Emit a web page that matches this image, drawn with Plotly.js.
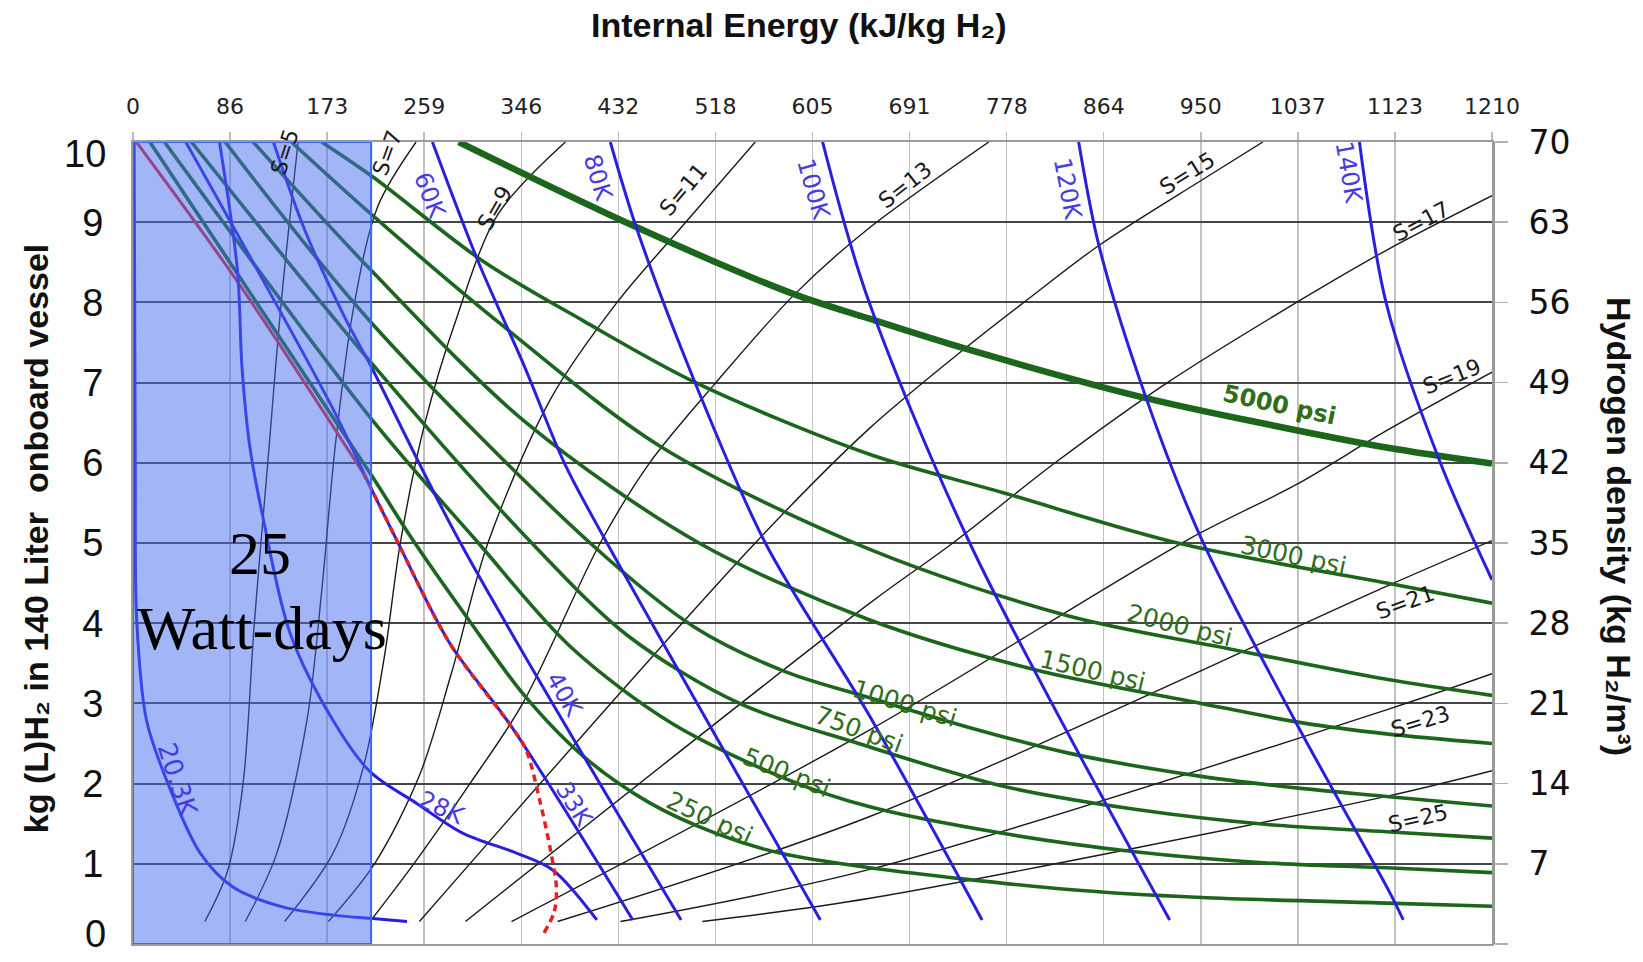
<!DOCTYPE html>
<html>
<head>
<meta charset="utf-8">
<script src="https://cdn.plot.ly/plotly-3.0.1.min.js"></script>
<style>
  html, body { margin: 0; padding: 0; background: #ffffff; }
  #chart { width: 1643px; height: 962px; }
</style>
</head>
<body>
<div id="chart"></div>
<script>
// ---- Axis ticks ----
const energyTickVals = [0, 86.43, 172.86, 259.29, 345.71, 432.14, 518.57, 605, 691.43, 777.86, 864.29, 950.71, 1037.14, 1123.57, 1210];
const energyTickText = ['0', '86', '173', '259', '346', '432', '518', '605', '691', '778', '864', '950', '1037', '1123', '1210'];
const massTicks = [0, 1, 2, 3, 4, 5, 6, 7, 8, 9, 10];
const massTickText = ['', '1', '2', '3', '4', '5', '6', '7', '8', '9', ''];
const densityTicks = [0, 7, 14, 21, 28, 35, 42, 49, 56, 63, 70];

// ---- Isobars: [internal energy kJ/kg, kg H2 in 140 L] ----
const isobar250 = [[15, 10], [212, 5.85], [249, 5.04], [299, 4.04], [349, 3.09], [401, 2.34], [460, 1.76], [519, 1.38], [577, 1.13], [656, 0.95], [833, 0.68], [951, 0.58], [1116, 0.51], [1210, 0.47]];
const isobar500 = [[28, 10], [212, 6.55], [305, 5.04], [390, 3.7], [480, 2.75], [583, 2.05], [656, 1.71], [774, 1.38], [892, 1.15], [1010, 1.01], [1116, 0.95], [1210, 0.89]];
const isobar750 = [[52, 10], [212, 7.25], [355, 5.0], [440, 3.85], [540, 3.0], [646, 2.5], [774, 1.97], [892, 1.68], [1010, 1.49], [1116, 1.40], [1210, 1.32]];
const isobar1000 = [[82, 10], [212, 7.75], [407, 5.0], [500, 3.95], [580, 3.4], [656, 3.07], [742, 2.71], [833, 2.38], [951, 2.09], [1040, 1.94], [1116, 1.84], [1210, 1.72]];
const isobar1500 = [[107, 10], [212, 8.4], [350, 6.5], [504, 5.0], [656, 4.04], [803, 3.42], [951, 3.0], [1040, 2.76], [1116, 2.62], [1210, 2.5]];
const isobar2000 = [[141, 10], [212, 9.1], [330, 7.7], [470, 6.2], [656, 4.92], [833, 4.09], [980, 3.67], [1116, 3.30], [1210, 3.1]];
const isobar3000 = [[168, 10], [214, 9.56], [311, 8.52], [401, 7.77], [501, 7.0], [655, 6.11], [774, 5.63], [930, 5.0], [1116, 4.5], [1210, 4.25]];
const isobar5000 = [[290, 10], [448, 8.94], [589, 8.1], [655, 7.8], [742, 7.42], [901, 6.81], [1010, 6.48], [1116, 6.19], [1210, 5.99]];

// ---- Isotherms ----
const isotherm20 = [[1, 10], [2, 6], [3.3, 4.04], [12, 2.79], [30, 2.04], [60, 1.13], [89, 0.71], [134, 0.46], [178, 0.36], [211, 0.32], [244, 0.28]];
const isotherm28 = [[77, 10], [93, 8.4], [97, 7.2], [104, 6.2], [116, 5.3], [140, 3.87], [178, 2.79], [211, 2.15], [253, 1.75], [294, 1.38], [342, 1.13], [374, 0.92], [413, 0.3]];
const isotherm33 = [[47, 10], [177, 6.7], [212, 5.68], [235, 5.03], [282, 3.75], [337, 2.71], [445, 0.3]];
const isotherm40 = [[125, 10], [153, 8.9], [189, 7.8], [212, 7.2], [290, 5.04], [488, 0.3]];
const isotherm60 = [[266.6, 10], [307.6, 8.5], [348.6, 7.2], [384, 6.0], [422, 5.0], [612, 0.3]];
const isotherm80 = [[425, 10], [448, 8.94], [501, 6.98], [563, 5.0], [656, 2.84], [756, 0.3]];
const isotherm100 = [[614, 10], [653, 8.1], [745, 5.0], [923, 0.3]];
const isotherm120 = [[842, 10], [860, 8.71], [901, 6.85], [951, 5.06], [1034, 2.8], [1119, 0.64], [1131, 0.3]];
const isotherm140 = [[1092, 10], [1116, 7.98], [1164, 6.0], [1210, 4.54]];

// ---- Saturated liquid line ----
const satLiquidSolid = [[3, 10], [91, 8.3], [205, 5.87]];
const satLiquidDashed = [[205, 5.87], [212, 5.68], [235, 5.03], [282, 3.75], [337, 2.71], [350, 2.42], [362, 1.8], [372, 1.15], [377, 0.7], [375, 0.4], [366, 0.14]];

// ---- Isentropes ----
const entropy5 = [[64, 0.28], [84, 0.9], [98, 2.0], [108, 4.0], [120, 6.0], [132, 8.0], [147, 10]];
const entropy7 = [[100, 0.28], [128, 1.13], [155, 2.8], [168, 4.4], [180, 6.2], [196, 7.9], [218, 9.2], [252, 10]];
const entropy9 = [[135, 0.28], [178, 1.13], [205, 2.2], [224, 3.6], [238, 5.0], [260, 6.5], [288, 7.8], [325, 9.1], [385, 10]];
const entropy11 = [[174, 0.28], [215, 1.0], [255, 2.1], [284, 3.4], [316, 5.0], [372, 6.8], [431, 8.0], [489, 8.95], [554, 10]];
const entropy13 = [[211, 0.28], [250, 1.0], [300, 2.0], [347, 3.0], [416, 5.0], [460, 6.0], [519, 7.0], [589, 8.1], [653, 8.9], [762, 10]];
const entropy15 = [[255, 0.28], [554, 5.0], [655, 6.42], [742, 7.44], [795, 8.02], [860, 8.71], [951, 9.52], [1006, 10]];
const entropy17 = [[296, 0.28], [656, 4.25], [730, 5.0], [821, 6.0], [921, 7.0], [1036, 8.0], [1116, 8.65], [1210, 9.33]];
const entropy19 = [[337, 0.28], [656, 2.67], [939, 5.04], [1036, 5.73], [1116, 6.4], [1210, 7.13]];
const entropy21 = [[378, 0.28], [656, 1.59], [1116, 4.46], [1210, 5.03]];
const entropy23 = [[434, 0.28], [656, 0.93], [1116, 2.92], [1210, 3.37]];
const entropy25 = [[507, 0.28], [656, 0.57], [1116, 1.84], [1210, 2.16]];

// ---- Heat-leak window ----
const windowEnergy = [0, 212];

// ---- Colours ----
const GREEN = '#1c661c';
const BLUE = '#2a20dc';
const BLACK = '#1a1a1a';
const RED = '#e52222';
const LABEL_GREEN = '#2f6f1c';
const LABEL_BLUE = '#4a3be0';

function curve(pts, color, width, dash) {
  return {
    x: pts.map(p => p[0]),
    y: pts.map(p => p[1]),
    mode: 'lines',
    type: 'scatter',
    line: { color: color, width: width, shape: 'spline', smoothing: 0.9, dash: dash || 'solid' },
    hoverinfo: 'skip',
    showlegend: false
  };
}

const traces = [];
[entropy5, entropy7, entropy9, entropy11, entropy13, entropy15, entropy17, entropy19, entropy21, entropy23, entropy25]
  .forEach(s => traces.push(curve(s, BLACK, 1.4)));
[isobar250, isobar500, isobar750, isobar1000, isobar1500, isobar2000, isobar3000]
  .forEach(p => traces.push(curve(p, GREEN, 3.6)));
traces.push(curve(isobar5000, GREEN, 6.5));
traces.push(curve(satLiquidSolid, RED, 3));
[isotherm20, isotherm28, isotherm33, isotherm40, isotherm60, isotherm80, isotherm100, isotherm120, isotherm140]
  .forEach(t => traces.push(curve(t, BLUE, 3)));
traces.push(curve(satLiquidDashed, RED, 3.5, '7px,5px'));
// keeps the density axis on the right drawn
traces.push({ x: [0], y: [0], yaxis: 'y2', mode: 'markers', marker: { opacity: 0 }, hoverinfo: 'skip', showlegend: false });

function label(text, x, y, angle, color, size, weight) {
  return {
    text: text, x: x, y: y, xref: 'x', yref: 'y', showarrow: false,
    textangle: angle, xanchor: 'center', yanchor: 'middle',
    font: { family: 'DejaVu Sans', size: size, color: color, weight: weight || 'normal' }
  };
}

const annotations = [
  // pressure labels
  label('5000 psi', 1021, 6.72, 12, LABEL_GREEN, 24, 'bold'),
  label('3000 psi', 1033, 4.85, 12, LABEL_GREEN, 25),
  label('2000 psi', 932, 3.97, 14, LABEL_GREEN, 25),
  label('1500 psi', 854, 3.41, 13, LABEL_GREEN, 25),
  label('1000 psi', 687, 3.0, 17, LABEL_GREEN, 25),
  label('750 psi', 646, 2.67, 20, LABEL_GREEN, 25),
  label('500 psi', 582, 2.14, 22, LABEL_GREEN, 25),
  label('250 psi', 514, 1.57, 25, LABEL_GREEN, 25),
  // temperature labels
  label('60K', 264.5, 9.33, 69, LABEL_BLUE, 24),
  label('80K', 414, 9.55, 73, LABEL_BLUE, 24),
  label('100K', 605.5, 9.41, 74, LABEL_BLUE, 24),
  label('120K', 832.5, 9.42, 79, LABEL_BLUE, 24),
  label('140K', 1082, 9.62, 80, LABEL_BLUE, 24),
  label('40K', 384, 3.1, 60, LABEL_BLUE, 24),
  label('33K', 393, 1.73, 58, LABEL_BLUE, 24),
  label('28K', 275, 1.69, 25, LABEL_BLUE, 24),
  label('20.3K', 40, 2.05, 72, LABEL_BLUE, 26),
  // entropy labels
  label('S=5', 135, 9.87, -72, BLACK, 22),
  label('S=7', 226, 9.86, -70, BLACK, 22),
  label('S=9', 322, 9.17, -60, BLACK, 22),
  label('S=11', 490, 9.41, -50, BLACK, 22),
  label('S=13', 687, 9.46, -38, BLACK, 22),
  label('S=15', 938.5, 9.61, -32, BLACK, 22),
  label('S=17', 1147, 9.01, -28, BLACK, 22),
  label('S=19', 1174.6, 7.07, -22, BLACK, 22),
  label('S=21', 1132.6, 4.26, -20, BLACK, 22),
  label('S=23', 1146, 2.78, -17, BLACK, 22),
  label('S=25', 1144, 1.56, -13, BLACK, 22),
  // window caption
  { text: '25', x: 113, y: 4.87, xref: 'x', yref: 'y', showarrow: false,
    font: { family: 'Liberation Serif', size: 62, color: '#000' } },
  { text: 'Watt-days', x: 115, y: 3.94, xref: 'x', yref: 'y', showarrow: false,
    font: { family: 'Liberation Serif', size: 62, color: '#000' } },
  // end labels of the mass axis, nudged inside the frame
  { text: '10', x: -0.0184, y: 9.85, xref: 'paper', yref: 'y', showarrow: false, xanchor: 'right', yanchor: 'middle',
    font: { family: 'Liberation Sans', size: 38, color: '#111' } },
  { text: '0', x: -0.0184, y: 0.12, xref: 'paper', yref: 'y', showarrow: false, xanchor: 'right', yanchor: 'middle',
    font: { family: 'Liberation Sans', size: 38, color: '#111' } },
  // axis titles
  { text: '<b>Internal Energy (kJ/kg H\u2082)</b>', x: 0.49, y: 1.1465, xref: 'paper', yref: 'paper',
    showarrow: false, xanchor: 'center', yanchor: 'middle',
    font: { family: 'Liberation Sans', size: 34, color: '#111' } },
  { text: '<b>kg (L)H\u2082 in 140 Liter\u00A0 onboard vessel</b>', x: -0.0714, y: 0.506, xref: 'paper', yref: 'paper',
    showarrow: false, textangle: -90, xanchor: 'center', yanchor: 'middle',
    font: { family: 'Liberation Sans', size: 34, color: '#111' } },
  { text: '<b>Hydrogen density (kg H\u2082/m\u00B3)</b>', x: 1.0935, y: 0.521, xref: 'paper', yref: 'paper',
    showarrow: false, textangle: 90, xanchor: 'center', yanchor: 'middle',
    font: { family: 'Liberation Sans', size: 34, color: '#111' } }
];

const layout = {
  width: 1643,
  height: 962,
  margin: { l: 133, r: 151, t: 142, b: 18 },
  paper_bgcolor: '#ffffff',
  plot_bgcolor: '#ffffff',
  showlegend: false,
  xaxis: {
    range: [0, 1210], side: 'top', tickmode: 'array',
    tickvals: energyTickVals, ticktext: energyTickText,
    showgrid: true, gridcolor: '#c2c2c2', gridwidth: 1.5, zeroline: false,
    showline: true, linecolor: '#9a9a9a', linewidth: 2, mirror: true,
    ticks: 'outside', ticklen: 8, tickcolor: '#bdbdbd', tickwidth: 1.5,
    ticklabelstandoff: 9,
    tickfont: { family: 'DejaVu Sans', size: 22, color: '#222' },
    fixedrange: true
  },
  yaxis: {
    range: [0, 10], tickmode: 'array', tickvals: massTicks, ticktext: massTickText,
    showgrid: true, gridcolor: '#454545', gridwidth: 2, zeroline: false,
    showline: true, linecolor: '#9a9a9a', linewidth: 2, mirror: true,
    ticks: '', ticklabelstandoff: 20,
    tickfont: { family: 'Liberation Sans', size: 38, color: '#111' },
    fixedrange: true
  },
  yaxis2: {
    range: [0, 70], overlaying: 'y', side: 'right', tickmode: 'array', tickvals: densityTicks,
    showgrid: false, zeroline: false, showline: true, linecolor: '#9a9a9a', linewidth: 3,
    ticks: 'outside', ticklen: 13, tickcolor: '#b0b0b0', tickwidth: 1.5,
    ticklabelstandoff: 14,
    tickfont: { family: 'DejaVu Sans', size: 33, color: '#111' },
    fixedrange: true
  },
  shapes: [{
    type: 'rect', xref: 'x', yref: 'y',
    x0: windowEnergy[0], x1: windowEnergy[1], y0: 0, y1: 10,
    fillcolor: 'rgba(70,110,240,0.5)',
    line: { color: '#3a66ff', width: 2 },
    layer: 'above'
  }],
  annotations: annotations
};

Plotly.newPlot('chart', traces, layout, { staticPlot: true, displayModeBar: false });
</script>
</body>
</html>
